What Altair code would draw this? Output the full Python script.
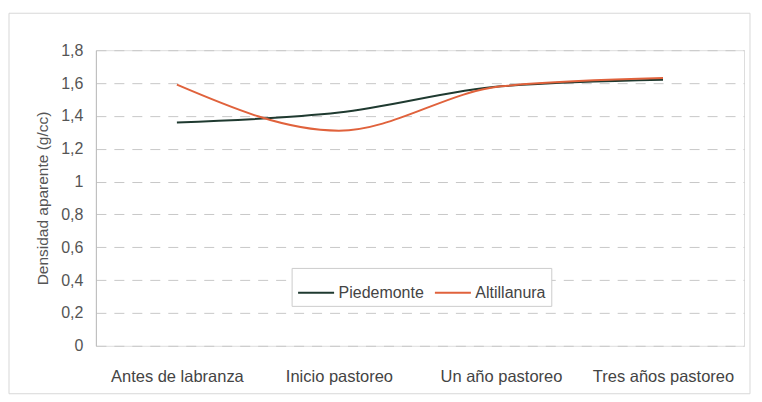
import altair as alt
import pandas as pd

categorias = ["Antes de labranza", "Inicio pastoreo", "Un año pastoreo", "Tres años pastoreo"]
piedemonte = [1.36, 1.42, 1.58, 1.62]
altillanura = [1.59, 1.31, 1.58, 1.63]
series = ["Piedemonte", "Altillanura"]
colores = ["#1f3a30", "#e0623c"]
y_ticks = [0, 0.2, 0.4, 0.6, 0.8, 1.0, 1.2, 1.4, 1.6, 1.8]

rows = []
for i, c in enumerate(categorias):
    rows.append({"cat": c, "serie": "Piedemonte", "valor": piedemonte[i], "ord": i})
    rows.append({"cat": c, "serie": "Altillanura", "valor": altillanura[i], "ord": i})
df = pd.DataFrame(rows)

FONT = "Liberation Sans"

lines = alt.Chart(df).mark_line(interpolate="monotone", strokeWidth=2).encode(
    x=alt.X("cat:N", sort=categorias, title=None,
            scale=alt.Scale(paddingInner=0, paddingOuter=0.0),
            axis=alt.Axis(labelAngle=0, ticks=False, domain=False, grid=False,
                          labelPadding=23, labelFontSize=16.5, labelColor="#444444",
                          labelFont=FONT)),
    y=alt.Y("valor:Q", title="Densidad aparente (g/cc)",
            scale=alt.Scale(domain=[0, 1.8], nice=False),
            axis=alt.Axis(values=y_ticks, ticks=False, domain=True, domainColor="#bbbbbb",
                          labelExpr="replace(format(datum.value, '.2~f'), '.', ',')",
                          labelPadding=13, labelFontSize=16, labelColor="#555555",
                          labelFont=FONT, titleFont=FONT, titleFontSize=15.5,
                          titleFontWeight="normal", titleColor="#555555", titlePadding=10,
                          grid=True, gridColor="#c8c8c8", gridDash=[10, 8])),
    color=alt.Color("serie:N", sort=series,
                    scale=alt.Scale(domain=series, range=colores),
                    legend=alt.Legend(title=None, orient="none", legendX=196, legendY=218,
                                      direction="horizontal", symbolType="stroke",
                                      symbolStrokeWidth=2, symbolSize=1300,
                                      labelFontSize=16, labelColor="#444444", labelFont=FONT,
                                      labelOffset=3,
                                      fillColor="white", strokeColor="#cccccc",
                                      padding=5, columnPadding=6)),
    order="ord:Q",
)

border = alt.Chart(pd.DataFrame({"a": [0]})).mark_rect(
    fill=None, stroke="#d8d8d8", strokeWidth=1, clip=False
).encode(x=alt.value(-87), x2=alt.value(655), y=alt.value(-37), y2=alt.value(344))

chart = alt.layer(border, lines).properties(
    width=649, height=296,
    autosize=alt.AutoSizeParams(type="none"),
    padding={"left": 88, "top": 42, "right": 10, "bottom": 50},
).configure_view(stroke=None).configure(background="white")

chart.save("out.html", embed_options={"renderer": "svg", "actions": False})
